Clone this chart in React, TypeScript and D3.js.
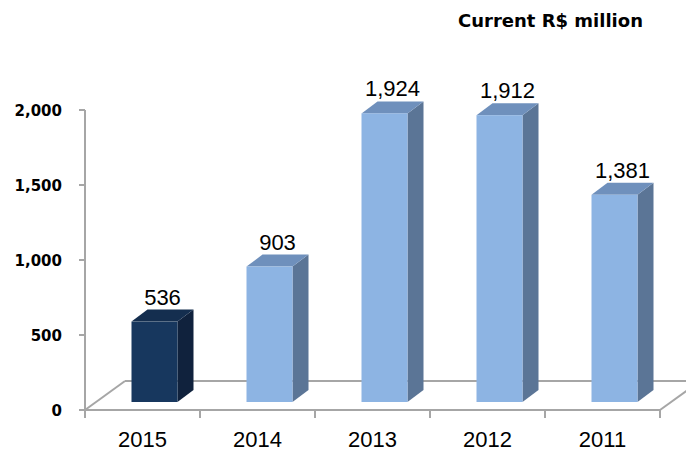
import React from 'react';
import * as d3 from 'd3';

// values in current R$ million
const years = ['2015', '2014', '2013', '2012', '2011'];
const values = [536, 903, 1924, 1912, 1381];
const yTicks = [0, 500, 1000, 1500, 2000];
const highlight = '2015';

const W = 686;
const H = 452;

function App() {
    const x = d3.scaleBand<string>().domain(years).range([85, 660]).padding(0);
    const y = d3.scaleLinear().domain([0, 2000]).range([410, 110]);
    const fmt = d3.format(',');

    // floor depth and bar placement inside it
    const floor = { dx: 40, dy: -29 };
    const off = { dx: 12, dy: -8 };
    const depth = { dx: 16, dy: -12 };
    const barW = 46;

    const axisColor = '#a6a6a6';
    const y0 = y(0);
    const xEnd = x.range()[1];

    return (
        <svg width={W} height={H} style={{ position: 'absolute', left: 0, top: 0, background: '#fff' }}>
            {/* floor */}
            <g stroke={axisColor} strokeWidth={2} fill="none">
                <line x1={85 + floor.dx} y1={y0 + floor.dy} x2={xEnd + floor.dx} y2={y0 + floor.dy} />
                <line x1={85} y1={y0} x2={85 + floor.dx} y2={y0 + floor.dy} />
                <line x1={xEnd} y1={y0} x2={xEnd + floor.dx} y2={y0 + floor.dy} />
                <line x1={85} y1={y0} x2={xEnd} y2={y0} />
                <line x1={85} y1={y(2000)} x2={85} y2={y0} />
                {yTicks.map(t => (
                    <line key={t} x1={79} x2={85} y1={y(t)} y2={y(t)} />
                ))}
                {[...years.map(c => x(c) as number), xEnd].map((px, i) => (
                    <line key={i} x1={px} x2={px} y1={y0} y2={y0 + 8} />
                ))}
            </g>

            {/* bars */}
            {years.map((c, i) => {
                const v = values[i];
                const dark = c === highlight;
                const front = dark ? '#17375e' : '#8db4e3';
                const side = dark ? '#10223d' : '#5b7596';
                const top = dark ? '#142e4f' : '#6f90bc';
                const bx = (x(c) as number) + x.bandwidth() / 2 - barW / 2 + off.dx;
                const by = y(v) + off.dy;
                const bb = y0 + off.dy;
                const r = bx + barW;
                return (
                    <g key={c}>
                        <polygon
                            points={`${r},${by} ${r + depth.dx},${by + depth.dy} ${r + depth.dx},${bb + depth.dy} ${r},${bb}`}
                            fill={side}
                        />
                        <polygon
                            points={`${bx},${by} ${bx + depth.dx},${by + depth.dy} ${r + depth.dx},${by + depth.dy} ${r},${by}`}
                            fill={top}
                        />
                        <rect x={bx} y={by} width={barW} height={bb - by} fill={front} />
                        <text
                            x={bx + barW / 2 + depth.dx / 2}
                            y={by + depth.dy - 5}
                            textAnchor="middle"
                            fontFamily="'Liberation Sans', Arial, sans-serif"
                            fontSize={22}
                            fill="#000"
                        >
                            {fmt(v)}
                        </text>
                    </g>
                );
            })}

            {/* y labels */}
            {yTicks.map(t => (
                <text
                    key={t}
                    x={62}
                    y={y(t) + 6}
                    textAnchor="end"
                    fontFamily="'DejaVu Sans', sans-serif"
                    fontWeight="bold"
                    fontSize={15}
                    fill="#000"
                >
                    {fmt(t)}
                </text>
            ))}

            {/* x labels */}
            {years.map(c => (
                <text
                    key={c}
                    x={(x(c) as number) + x.bandwidth() / 2}
                    y={447}
                    textAnchor="middle"
                    fontFamily="'Liberation Sans', Arial, sans-serif"
                    fontSize={22}
                    fill="#000"
                >
                    {c}
                </text>
            ))}

            <text
                x={458}
                y={27}
                fontFamily="'DejaVu Sans', sans-serif"
                fontWeight="bold"
                fontSize={18}
                fill="#000"
            >
                Current R$ million
            </text>
        </svg>
    );
}

export default App;
